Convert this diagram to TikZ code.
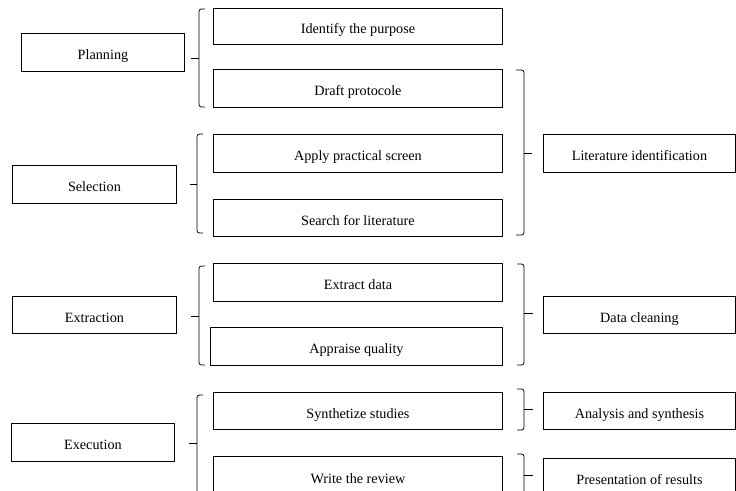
\documentclass[tikz,border=0pt]{standalone}
\usepackage{fontspec}
\setmainfont{Liberation Serif}
\begin{document}
\begin{tikzpicture}[x=1pt,y=-1pt,
  box/.style={draw=black, line width=0.9pt, inner sep=0pt, anchor=north west,
    font=\fontsize{14.2}{16}\selectfont, text=black, text height=15pt, text depth=0pt},
  brc/.style={draw=black, line width=0.8pt, rounded corners=2.5pt}]
\useasboundingbox (0,0) rectangle (736,490);
\begin{scope}
\clip (0,0) rectangle (736,490);
% left column
\node[box, minimum width=163pt, minimum height=38pt] (plan) at (21,33) {Planning};
\node[box, minimum width=164pt, minimum height=38pt] (sel) at (12,165) {Selection};
\node[box, minimum width=164pt, minimum height=37pt] (extr) at (12,296) {Extraction};
\node[box, minimum width=163pt, minimum height=38pt] (exec) at (11,423) {Execution};
% middle column
\node[box, minimum width=289pt, minimum height=36pt] (ident) at (213,8) {Identify the purpose};
\node[box, minimum width=289pt, minimum height=38pt] (draft) at (213,69) {Draft protocole};
\node[box, minimum width=289pt, minimum height=38pt] (apply) at (213,134) {Apply practical screen};
\node[box, minimum width=289pt, minimum height=37pt] (search) at (213,199) {Search for literature};
\node[box, minimum width=289pt, minimum height=38pt] (exdata) at (213,263) {Extract data};
\node[box, minimum width=292pt, minimum height=38pt] (appr) at (210,327) {Appraise quality};
\node[box, minimum width=289pt, minimum height=37pt] (synth) at (213,392) {Synthetize studies};
\node[box, minimum width=289pt, minimum height=39pt] (write) at (213,456) {Write the review};
% right column
\node[box, minimum width=192pt, minimum height=38pt] (lit) at (543,134) {Literature identification};
\node[box, minimum width=192pt, minimum height=37pt] (clean) at (543,296) {Data cleaning};
\node[box, minimum width=192pt, minimum height=37pt] (anal) at (543,392) {Analysis and synthesis};
\node[box, minimum width=192pt, minimum height=38pt] (pres) at (543,458) {Presentation of results};
% left braces
\draw[brc] (205,9) -- (199,9) -- (199,107) -- (205,107);
\draw[brc] (191,58) -- (199,58);
\draw[brc] (203,134) -- (197,134) -- (197,233) -- (203,233);
\draw[brc] (190,184) -- (197,184);
\draw[brc] (205,266) -- (199,266) -- (199,365) -- (205,365);
\draw[brc] (191,316) -- (199,316);
\draw[brc] (203,395) -- (197,395) -- (197,496) -- (203,496);
\draw[brc] (189,443) -- (197,443);
% right braces
\draw[brc] (516,70) -- (524,70) -- (524,235) -- (516,235);
\draw[brc] (524,153) -- (532,153);
\draw[brc] (517,264) -- (524,264) -- (524,365) -- (517,365);
\draw[brc] (524,313) -- (533,313);
\draw[brc] (517,389) -- (524,389) -- (524,430) -- (517,430);
\draw[brc] (524,409) -- (533,409);
\draw[brc] (517,454) -- (524,454) -- (524,496) -- (517,496);
\draw[brc] (524,475) -- (533,475);
\end{scope}
\end{tikzpicture}
\end{document}
